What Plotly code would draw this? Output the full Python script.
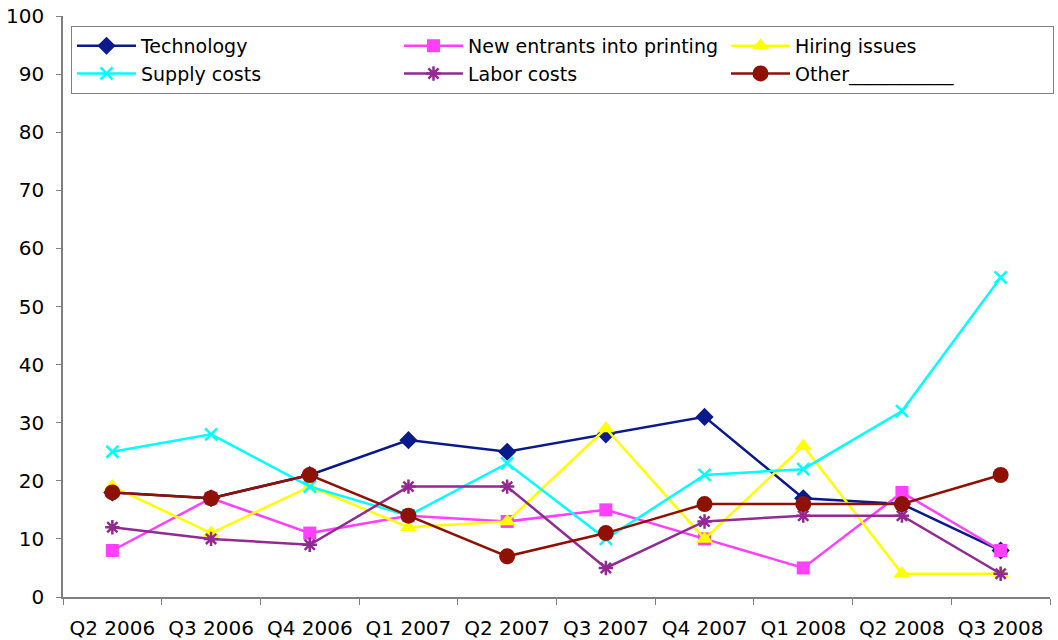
import plotly.graph_objects as go

categories = ["Q2 2006", "Q3 2006", "Q4 2006", "Q1 2007", "Q2 2007",
              "Q3 2007", "Q4 2007", "Q1 2008", "Q2 2008", "Q3 2008"]
technology = [18, 17, 21, 27, 25, 28, 31, 17, 16, 8]
new_entrants = [8, 17, 11, 14, 13, 15, 10, 5, 18, 8]
hiring_issues = [19, 11, 19, 12, 13, 29, 10, 26, 4, 4]
supply_costs = [25, 28, 19, 14, 23, 10, 21, 22, 32, 55]
labor_costs = [12, 10, 9, 19, 19, 5, 13, 14, 14, 4]
other = [18, 17, 21, 14, 7, 11, 16, 16, 16, 21]
y_ticks = [0, 10, 20, 30, 40, 50, 60, 70, 80, 90, 100]

series = [
    ("Technology", technology, "#0A1A8C", "diamond", 14, False),
    ("New entrants into printing", new_entrants, "#FF40FF", "square", 13, False),
    ("Hiring issues", hiring_issues, "#FFFF00", "triangle-up", 15, False),
    ("Supply costs", supply_costs, "#00FFFF", "x-thin-open", 12, True),
    ("Labor costs", labor_costs, "#922A92", "asterisk-open", 12, True),
    ("Other___________", other, "#8E1104", "circle", 16, False),
]

fig = go.Figure()
for name, vals, color, sym, size, open_sym in series:
    marker = dict(symbol=sym, size=size, color=color)
    if open_sym:
        marker["line"] = dict(color=color, width=2.5)
    fig.add_trace(go.Scatter(
        x=categories, y=vals, name=name, mode="lines+markers",
        line=dict(color=color, width=2.5), marker=marker,
    ))

fig.update_layout(
    width=1058, height=640,
    margin=dict(l=63, r=8, t=16, b=43, autoexpand=False),
    paper_bgcolor="white", plot_bgcolor="white",
    font=dict(family="DejaVu Sans", size=19, color="black"),
    showlegend=True,
    legend=dict(
        orientation="h", x=0.0081, y=0.983, xanchor="left", yanchor="top",
        entrywidth=253, entrywidthmode="pixels", itemwidth=59,
        bordercolor="#808080", borderwidth=1, bgcolor="white",
        font=dict(size=19), tracegroupgap=0,
    ),
)
fig.update_xaxes(
    type="category", range=[-0.5, 9.5], tickson="boundaries",
    ticks="outside", ticklen=6, tickcolor="#808080",
    showline=True, linecolor="#808080", linewidth=1.5,
    showgrid=False, tickfont=dict(size=20), automargin=False,
    ticklabelstandoff=12, ticklabeloverflow="allow",
)
fig.update_yaxes(
    range=[0, 100], tickvals=y_ticks, ticks="outside", ticklen=5,
    tickcolor="#808080", showline=True, linecolor="#808080", linewidth=1.5,
    showgrid=False, zeroline=False, tickfont=dict(size=20), automargin=False,
    ticklabelstandoff=8, ticklabeloverflow="allow",
)

# Remove the browser's default 8px body margin so the figure fills the window.
fig.write_html("out.html",
               config={"displayModeBar": False},
               post_script="document.body.style.margin='0';")
